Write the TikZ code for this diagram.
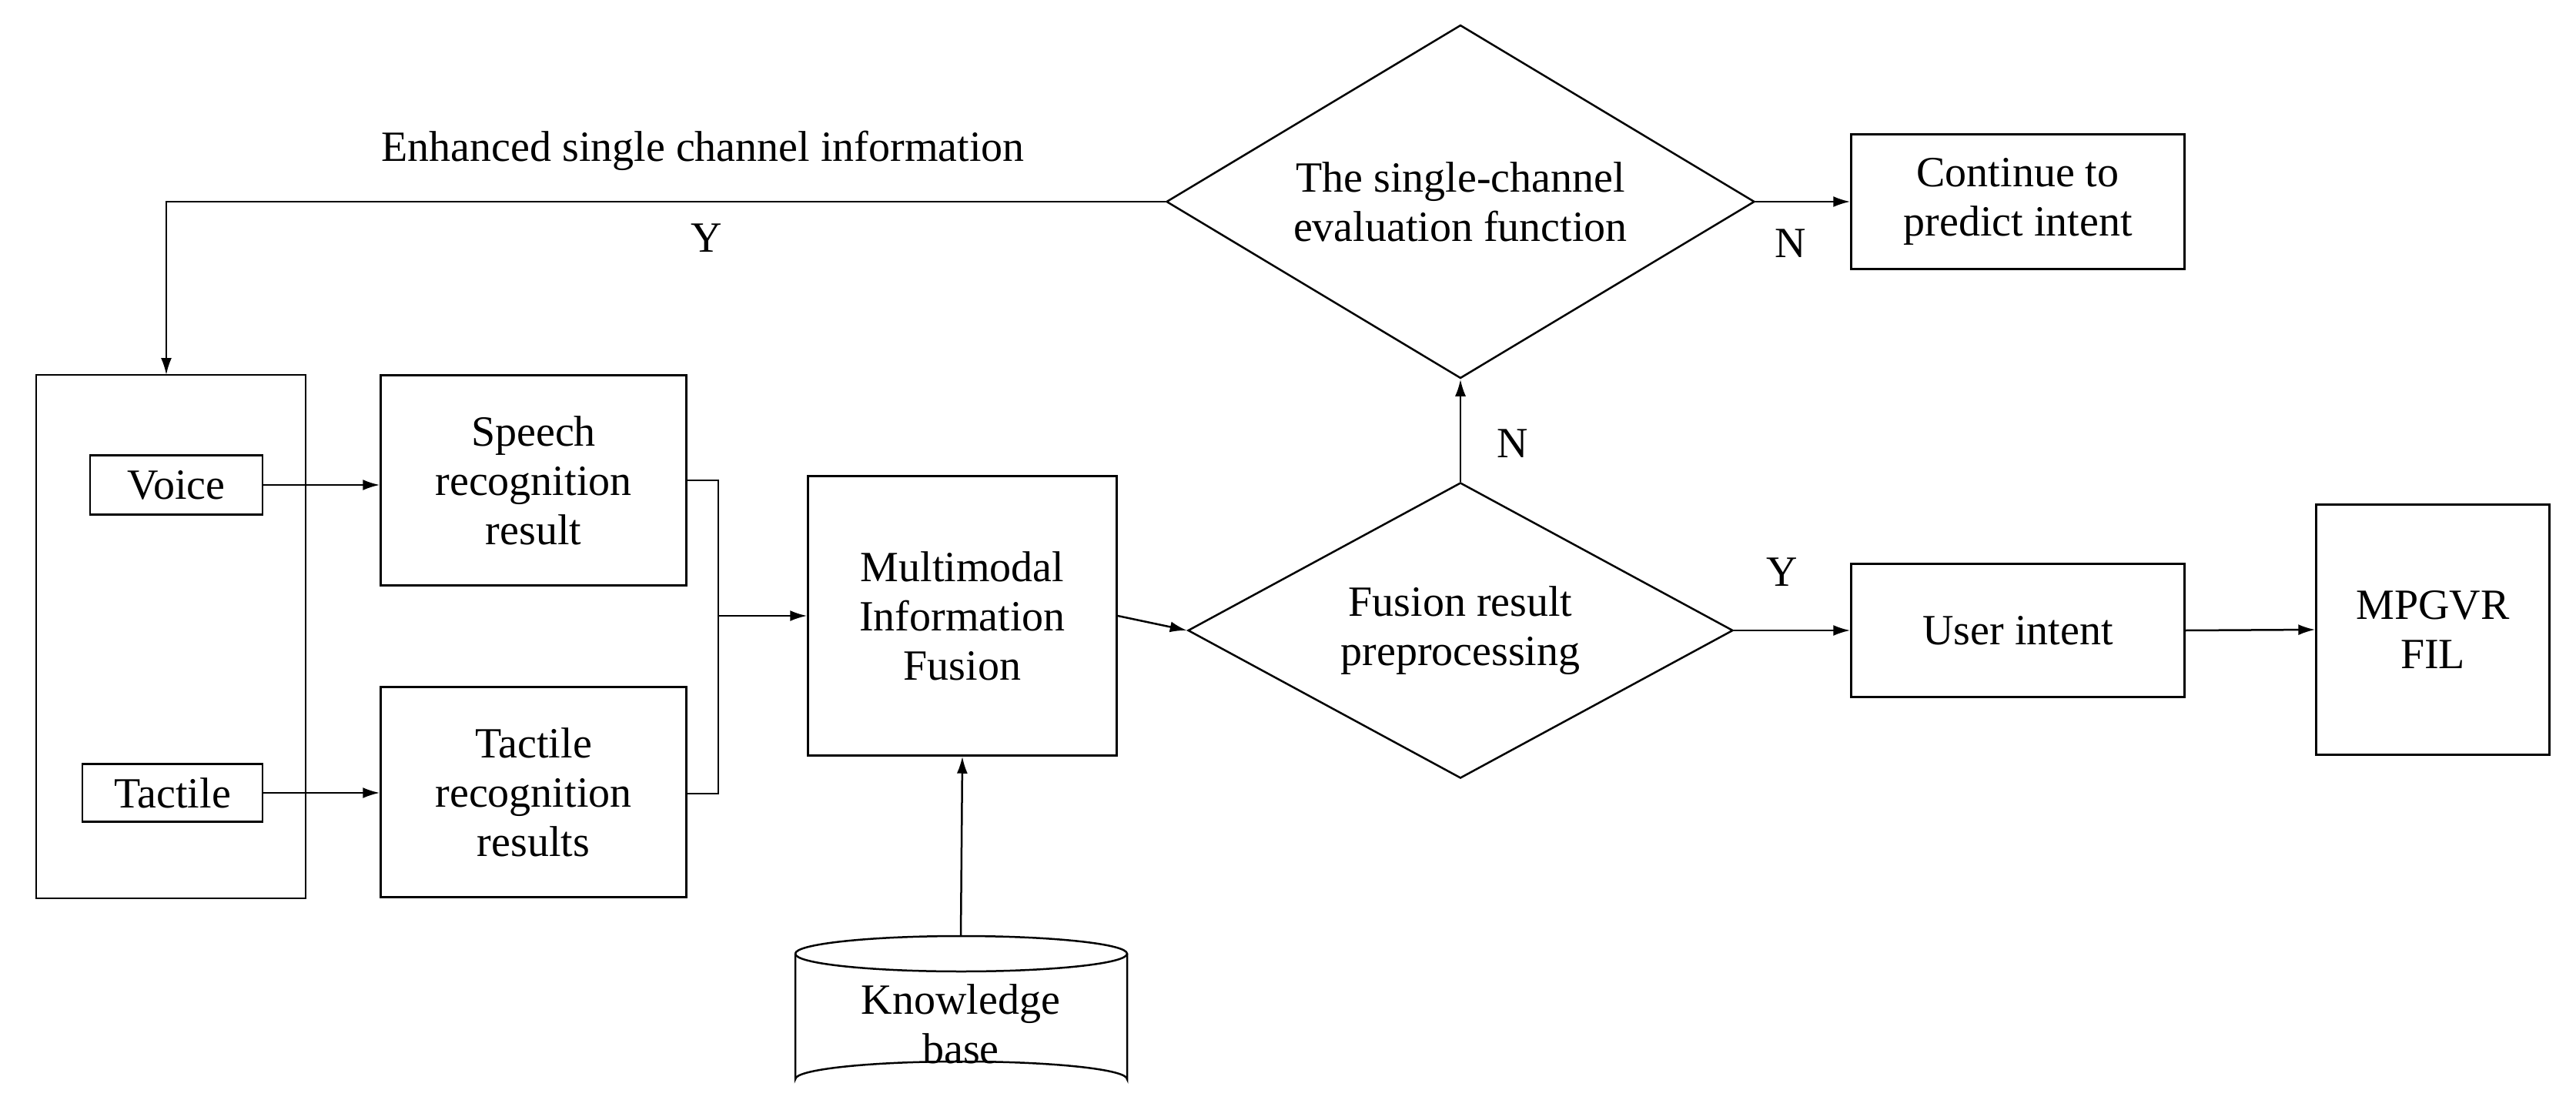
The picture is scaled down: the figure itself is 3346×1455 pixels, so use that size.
\documentclass[tikz,border=0pt]{standalone}
\usepackage{fontspec}
\setmainfont{Liberation Serif}
\usetikzlibrary{shapes.geometric,arrows.meta}
\begin{document}
\begin{tikzpicture}[x=1pt,y=-1pt,
  every node/.style={font=\fontsize{56}{64}\selectfont},
  box/.style={draw,line width=2.5pt,inner sep=0,align=center},
  ln/.style={line width=2.5pt},
  ar/.style={ln,-{Latex[length=22pt,width=14pt]}}]
\useasboundingbox (0,0) rectangle (3346,1455);
\node[box,minimum width=350,minimum height=680] (big) at (222,827) {};
\node[box,minimum width=224,minimum height=77] (voice) at (229,630) {Voice};
\node[box,minimum width=234,minimum height=75] (tact) at (224,1030) {Tactile};
\node[box,minimum width=397,minimum height=273] (speech) at (693,624) {Speech\\recognition\\result};
\node[box,minimum width=397,minimum height=273] (trec) at (693,1029) {Tactile\\recognition\\results};
\node[box,minimum width=401,minimum height=363] (multi) at (1250,800) {Multimodal\\Information\\Fusion};
\node[draw,diamond,ln,minimum width=708,minimum height=384,aspect=1.84,inner sep=0,align=center] (fus) at (1897,819) {};
\node[align=center] at (1897,819) {Fusion result\\preprocessing};
\node[draw,diamond,ln,minimum width=764,minimum height=459,aspect=1.66,inner sep=0] (sc) at (1897,262) {};
\node[align=center] at (1897,262) {The single-channel\\evaluation function};
\node[box,minimum width=433,minimum height=175] (cont) at (2621,262) {Continue to\\predict intent};
\node[box,minimum width=433,minimum height=173] (ui) at (2621,819) {User intent};
\node[box,minimum width=303,minimum height=325] (mp) at (3160,818) {MPGVR\\FIL};
% cylinder
\draw[ln] (1033,1239) arc[x radius=215.5,y radius=23,start angle=180,end angle=540];
\draw[ln] (1033,1239) -- (1033,1402) arc[x radius=215.5,y radius=23,start angle=180,end angle=360] -- (1464,1239);
\node[align=center] (kb) at (1248,1330) {Knowledge\\base};
\coordinate (kbt) at (1248,1216);
% connectors
\draw[ar] (voice.east) -- (voice.east -| speech.west);
\draw[ar] (tact.east) -- (tact.east -| trec.west);
\draw[ln] (speech.east) -- (933,624) -- (933,1031) -- (trec.east |- 0,1031);
\draw[ar] (933,800) -- (multi.west);
\draw[ar] (kbt) -- (multi.south);
\draw[ar] (multi.east) -- (fus.west);
\draw[ar] (fus.east) -- (ui.west);
\draw[ar] (ui.east) -- (mp.west);
\draw[ar] (fus.north) -- (sc.south);
\draw[ar] (sc.east) -- (cont.west);
\draw[ar] (sc.west) -- (216,262) -- (216,487);
\node at (913,196) {Enhanced single channel information};
\node at (918,309) {Y};
\node at (2326,316) {N};
\node at (1965,576) {N};
\node at (2315,743) {Y};
\end{tikzpicture}
\end{document}
